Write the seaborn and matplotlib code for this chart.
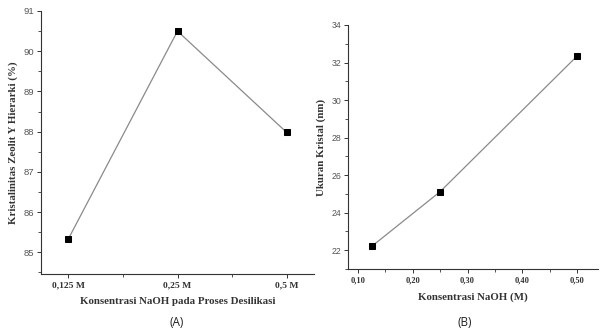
import matplotlib
matplotlib.use("Agg")
import matplotlib.pyplot as plt
from matplotlib.ticker import MultipleLocator, FixedLocator
import seaborn as sns
import pandas as pd

# Panel A data
a_categories = ["0,125 M", "0,25 M", "0,5 M"]
a_values = [85.33, 90.5, 87.98]
a_yticks = [85, 86, 87, 88, 89, 90, 91]

# Panel B data
b_conc = [0.125, 0.25, 0.5]
b_size = [22.2, 25.12, 32.35]
b_xticks = [0.10, 0.20, 0.30, 0.40, 0.50]
b_xticklabels = ["0,10", "0,20", "0,30", "0,40", "0,50"]
b_yticks = [22, 24, 26, 28, 30, 32, 34]

sns.set_theme(style="ticks")
plt.rcParams["font.family"] = ["Liberation Serif", "DejaVu Serif"]

fig = plt.figure(figsize=(6.0, 3.34), dpi=100)
axA = fig.add_axes([41/600, 1-274/334, (314-41)/600, (274-11)/334])
axB = fig.add_axes([348/600, 1-269/334, (598-348)/600, (269-25)/334])

line_col = "#8a8a8a"
dfA = pd.DataFrame({"pos": list(range(len(a_categories))), "val": a_values})
sns.lineplot(data=dfA, x="pos", y="val", ax=axA, color=line_col, lw=0.9,
             marker="s", markersize=4.8, markerfacecolor="black",
             markeredgecolor="black")
dfB = pd.DataFrame({"c": b_conc, "s": b_size})
sns.lineplot(data=dfB, x="c", y="s", ax=axB, color=line_col, lw=0.9,
             marker="s", markersize=4.8, markerfacecolor="black",
             markeredgecolor="black")

for ax in (axA, axB):
    sns.despine(ax=ax)
    for s in ("left", "bottom"):
        ax.spines[s].set_linewidth(0.8)
        ax.spines[s].set_color("#333333")
    ax.tick_params(which="major", length=3, width=0.7, color="#333333", pad=2)
    ax.tick_params(which="minor", length=2, width=0.6, color="#333333")

# Panel A axes
axA.set_xlim(-0.25, 2.25)
axA.set_ylim(84.46, 91)
axA.set_xticks(range(len(a_categories)))
axA.set_xticklabels(a_categories, fontsize=6.8, fontweight="bold", color="#333333")
axA.xaxis.set_minor_locator(FixedLocator([0.5, 1.5]))
axA.set_yticks(a_yticks)
axA.set_yticklabels([str(v) for v in a_yticks], fontsize=6.8, color="#555555",
                    family=["Liberation Sans", "DejaVu Sans"])
axA.yaxis.set_minor_locator(MultipleLocator(0.5))
axA.set_xlabel("Konsentrasi NaOH pada Proses Desilikasi", fontsize=7.8,
               fontweight="bold", color="#333333", labelpad=6)
axA.set_ylabel("Kristalinitas Zeolit Y Hierarki (%)", fontsize=7.8,
               fontweight="bold", color="#333333", labelpad=4)

# Panel B axes
axB.set_xlim(0.082, 0.538)
axB.set_ylim(21, 34)
axB.set_xticks(b_xticks)
axB.set_xticklabels(b_xticklabels, fontsize=6, fontweight="bold", color="#333333")
axB.xaxis.set_minor_locator(MultipleLocator(0.05))
axB.set_yticks(b_yticks)
axB.set_yticklabels([str(v) for v in b_yticks], fontsize=6.3, color="#555555",
                    family=["Liberation Sans", "DejaVu Sans"])
axB.yaxis.set_minor_locator(MultipleLocator(1))
axB.set_xlabel("Konsentrasi NaOH (M)", fontsize=7.8, fontweight="bold",
               color="#333333", labelpad=6)
axB.set_ylabel("Ukuran Kristal (nm)", fontsize=7.8, fontweight="bold",
               color="#333333", labelpad=4)

fig.text(177/600, 1-323/334, "(A)", ha="center", va="center", fontsize=8.5,
         family=["Open Sans", "DejaVu Sans"], color="#222222")
fig.text(465/600, 1-322/334, "(B)", ha="center", va="center", fontsize=8.5,
         family=["Open Sans", "DejaVu Sans"], color="#222222")

fig.savefig("out.png", dpi=100, facecolor="white")
